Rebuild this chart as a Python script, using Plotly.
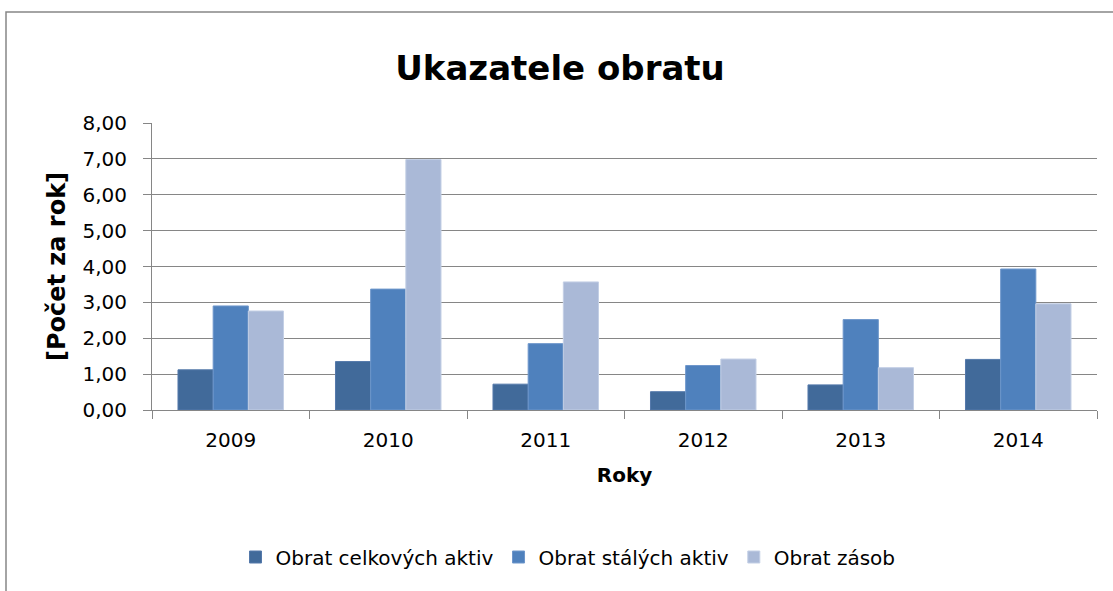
import plotly.graph_objects as go

years = ["2009", "2010", "2011", "2012", "2013", "2014"]
celkova_aktiva = [1.12, 1.35, 0.72, 0.51, 0.70, 1.41]
stala_aktiva = [2.90, 3.37, 1.85, 1.24, 2.52, 3.93]
zasoby = [2.76, 6.98, 3.57, 1.42, 1.18, 2.96]
series_names = ["Obrat celkových aktiv", "Obrat stálých aktiv", "Obrat zásob"]
colors = ["#416A9A", "#4F81BD", "#AAB9D7"]
edge = ["#5479AA", "#6E97CB", "#C3CFE5"]

W, H = 1113, 591
L, R, T, B = 152, 16, 123, 181
pw = W - L - R
ph = H - T - B
FONT = "DejaVu Sans"
GRAY = "#868686"

fig = go.Figure()
for name, vals, c, e in zip(series_names, [celkova_aktiva, stala_aktiva, zasoby], colors, edge):
    fig.add_trace(go.Bar(x=years, y=vals, name=name,
                         marker=dict(color=c, line=dict(color=e, width=1))))

def px_x(p):
    return (p - L) / pw

def px_y(p):
    return (H - B - p) / ph

fig.update_layout(
    width=W, height=H,
    margin=dict(l=L, r=R, t=T, b=B),
    paper_bgcolor="white", plot_bgcolor="white",
    separators=", ",
    barmode="group", bargap=0.33, bargroupgap=0,
    font=dict(family=FONT, color="black"),
    title=dict(text="<b>Ukazatele obratu</b>", x=560 / W, xanchor="center",
               y=1 - 68 / H, yanchor="middle", yref="container",
               font=dict(family=FONT, size=34, color="black")),
    xaxis=dict(showgrid=False, showline=True, linecolor=GRAY, linewidth=1,
               ticks="outside", ticklen=8, tickcolor=GRAY, tickson="boundaries",
               tickfont=dict(size=20, family=FONT), ticklabelstandoff=12,
               title=dict(text="<b>Roky</b>", font=dict(size=20, family=FONT), standoff=16)),
    yaxis=dict(range=[0, 8], dtick=1, tickformat=".2f",
               showgrid=True, gridcolor=GRAY, gridwidth=1,
               showline=True, linecolor=GRAY, linewidth=1,
               ticks="outside", ticklen=8, tickcolor=GRAY,
               tickfont=dict(size=20, family=FONT), ticklabelstandoff=12,
               zeroline=False,
               title=dict(text="<b>[Počet za rok]</b>", font=dict(size=24, family=FONT), standoff=10)),
    legend=dict(orientation="h", x=px_x(568), xanchor="center",
                y=px_y(557), yanchor="middle",
                font=dict(size=20, family=FONT), traceorder="normal"),
    shapes=[dict(type="rect", xref="paper", yref="paper",
                 x0=px_x(6), x1=px_x(1125), y0=px_y(600), y1=px_y(12),
                 line=dict(color=GRAY, width=1.5), fillcolor="rgba(0,0,0,0)",
                 layer="below")],
)

fig.write_html("out.html", config={"displayModeBar": False},
               post_script="document.body.style.margin='0';document.body.style.overflow='hidden';")
